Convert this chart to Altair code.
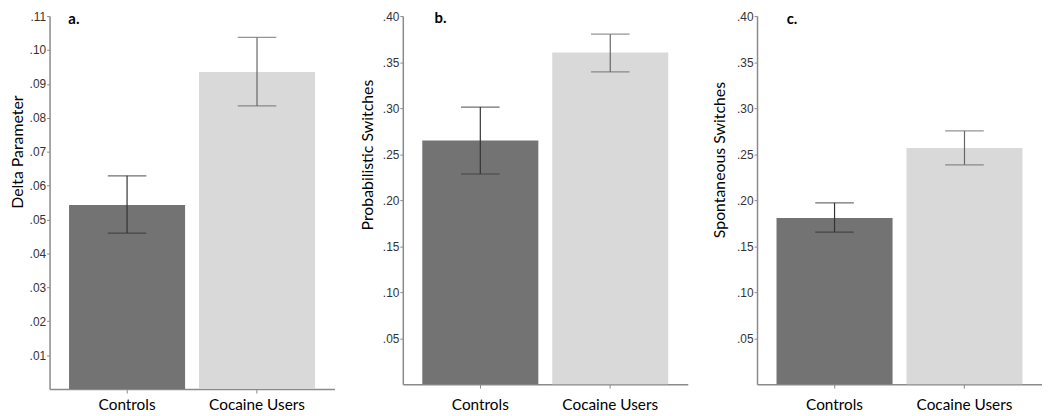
import altair as alt
import pandas as pd

groups = ["Controls", "Cocaine Users"]

delta_mean = [0.0543, 0.0935]
delta_lo = [0.0460, 0.0835]
delta_hi = [0.0629, 0.1037]

prob_mean = [0.2647, 0.3603]
prob_lo = [0.2284, 0.3393]
prob_hi = [0.3011, 0.3803]

spont_mean = [0.1807, 0.2567]
spont_lo = [0.1653, 0.2384]
spont_hi = [0.1971, 0.2752]

delta_ticks = [0.01, 0.02, 0.03, 0.04, 0.05, 0.06, 0.07, 0.08, 0.09, 0.10, 0.11]
switch_ticks = [0.05, 0.10, 0.15, 0.20, 0.25, 0.30, 0.35, 0.40]

bar_colors = ["#737373", "#d9d9d9"]
err_colors = ["#333333", "#666666"]

TITLE_FONT = "Lato"
LABEL_FONT = "Liberation Sans"


def panel(mean, lo, hi, ytitle, domain, ticks, height, yrange, letter,
          lx, ly, tx, ty, xpad, width=288):
    df = pd.DataFrame({"group": groups, "mean": mean, "lo": lo, "hi": hi})
    base = alt.Chart(df)
    xscale = alt.Scale(domain=groups, paddingInner=0.107, paddingOuter=0.15)
    xaxis = alt.Axis(
        title=None, labelAngle=0, labelFont=TITLE_FONT, labelFontSize=15.5,
        labelColor="#000000", labelPadding=xpad, tickSize=4,
        tickColor="#8a8a8a", domainColor="#8a8a8a", domainWidth=1.5,
    )
    if yrange is not None:
        yscale = alt.Scale(domain=domain, nice=False, zero=True, range=yrange)
    else:
        yscale = alt.Scale(domain=domain, nice=False, zero=True)
    yaxis = alt.Axis(
        title=ytitle, values=ticks, grid=False, labelOverlap=False,
        labelSeparation=0,
        labelExpr="replace(format(datum.value, '.2f'), '0.', '.')",
        labelFont=LABEL_FONT, labelFontSize=12, labelColor="#333333",
        labelPadding=1, tickSize=3, tickColor="#8a8a8a",
        domainColor="#8a8a8a", domainWidth=1.5,
        titleFont=TITLE_FONT, titleFontSize=16, titleFontWeight="normal",
        titleColor="#000000", titleX=tx, titleY=ty,
        titleBaseline="alphabetic", titleAlign="center", titleAngle=270,
    )

    def X():
        return alt.X("group:N", sort=groups, scale=xscale, axis=xaxis)

    def Y(field):
        return alt.Y(field, scale=yscale, axis=yaxis)

    color = alt.Color("group:N", scale=alt.Scale(domain=groups, range=bar_colors), legend=None)
    ecolor = alt.Color("group:N", scale=alt.Scale(domain=groups, range=err_colors), legend=None)
    bars = base.mark_bar().encode(x=X(), y=Y("mean:Q"), color=color)
    err = base.mark_rule(strokeWidth=1.2).encode(
        x=X(), y=Y("lo:Q"), y2="hi:Q", color=ecolor
    )
    cap_hi = base.mark_tick(size=39, thickness=1.2, orient="horizontal").encode(
        x=X(), y=Y("hi:Q"), color=ecolor
    )
    cap_lo = base.mark_tick(size=39, thickness=1.2, orient="horizontal").encode(
        x=X(), y=Y("lo:Q"), color=ecolor
    )
    lab = alt.Chart(pd.DataFrame({"t": [letter]})).mark_text(
        font=TITLE_FONT, fontSize=15, fontWeight="bold", align="left",
        baseline="middle", color="#000000"
    ).encode(text="t:N", x=alt.value(lx), y=alt.value(ly))
    return alt.layer(bars, err, cap_hi, cap_lo, lab).resolve_scale(color="independent").properties(
        width=width, height=height
    )


pa = panel(delta_mean, delta_lo, delta_hi, "Delta Parameter", [0, 0.11], delta_ticks,
           377, [377, 0], "a.", 19, 3, -27, 137, 5)
pb = panel(prob_mean, prob_lo, prob_hi, "Probabilistic Switches", [0, 0.40], switch_ticks,
           372, None, "b.", 32, 2, -31, 140, 10)
pc = panel(spont_mean, spont_lo, spont_hi, "Spontaneous Switches", [0, 0.40], switch_ticks,
           372, None, "c.", 30, 3, -33, 145, 10, width=288)

chart = alt.hconcat(pa, pb, pc, spacing=24).properties(
    padding={"left": 2, "top": 0, "right": 0, "bottom": 0}
).configure_view(stroke=None)

chart.save("out.html", embed_options={"renderer": "svg", "actions": False})
